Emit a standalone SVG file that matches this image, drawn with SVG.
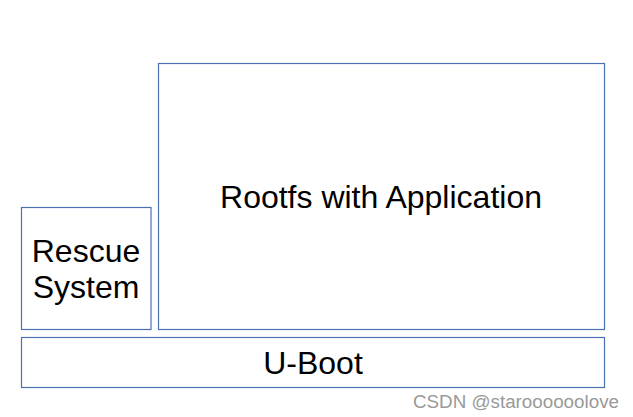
<svg xmlns="http://www.w3.org/2000/svg" width="633" height="417" viewBox="0 0 633 417">
<style>
.box{fill:#ffffff;stroke:#4a72b0;stroke-width:1.2}
.lbl{font-family:"Liberation Sans",Arial,sans-serif;font-size:32px;fill:#000;text-anchor:middle}
.wm{font-family:"Liberation Sans",Arial,sans-serif;font-size:18.8px;fill:#999;text-anchor:middle}
</style>
<rect width="633" height="417" fill="#ffffff"/>
<g id="rootfs">
<rect class="box" x="158.5" y="63.5" width="446" height="266"/>
<text class="lbl" x="381" y="208">Rootfs with Application</text>
</g>
<g id="rescue">
<rect class="box" x="21.5" y="207.5" width="129.5" height="122"/>
<text class="lbl" x="86" y="262">Rescue</text>
<text class="lbl" x="86" y="298">System</text>
</g>
<g id="uboot">
<rect class="box" x="21.5" y="337.5" width="583" height="50"/>
<text class="lbl" x="313" y="374">U-Boot</text>
</g>
<g id="connectors"></g>
<text class="wm" x="516" y="408">CSDN @staroooooolove</text>
</svg>
